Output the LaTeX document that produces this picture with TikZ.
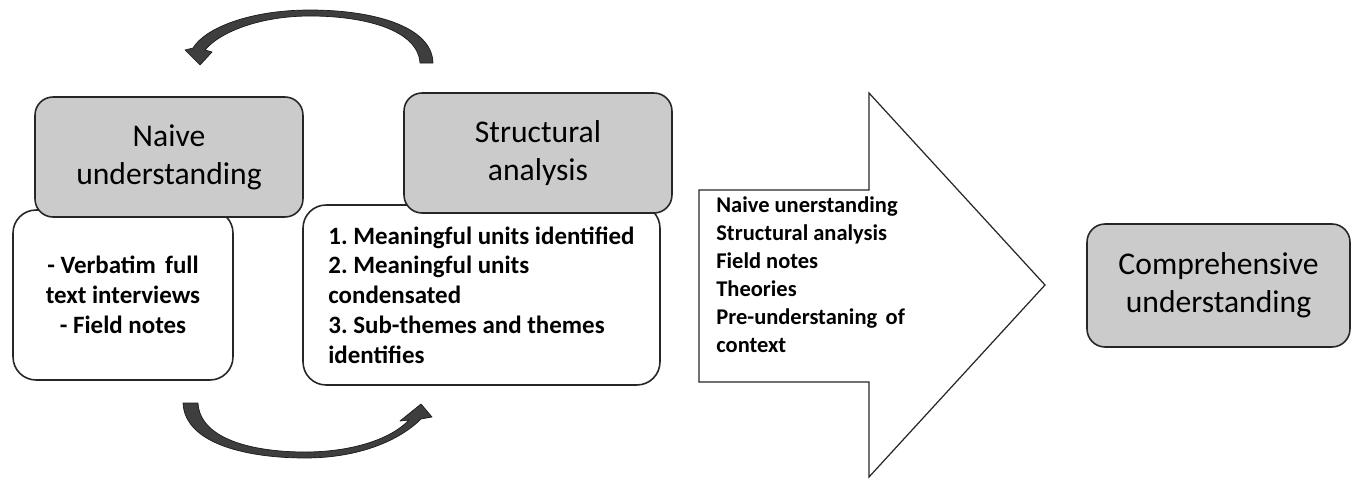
\documentclass[tikz,border=0pt]{standalone}
\usepackage{fontspec}
\setmainfont{Carlito}
\definecolor{boxgrey}{HTML}{CBCBCB}
\definecolor{linec}{HTML}{262626}
\definecolor{arcgrey}{HTML}{3E3E3E}
\definecolor{arcedge}{HTML}{1A1A1A}
\frenchspacing
\begin{document}
\begin{tikzpicture}[x=0.02cm,y=-0.02cm,
  greybox/.style={draw=linec, line width=0.9pt, fill=boxgrey, rounded corners=0.36cm,
    inner sep=0pt, align=center, font=\fontsize{18}{21.8}\selectfont},
  whitebox/.style={draw=linec, line width=0.9pt, fill=white, rounded corners=0.46cm,
    inner sep=0pt},
  bodytext/.style={inner sep=0pt, font=\bfseries\fontsize{14.2}{16.9}\selectfont},
  arrowtext/.style={inner sep=0pt, align=left, font=\bfseries\fontsize{12.8}{15.9}\selectfont},
  bigarrow/.style={draw=linec, line width=0.7pt, fill=white, line join=miter},
  curvedarrow/.style={fill=arcgrey, draw=arcedge, line width=0.4pt, line join=round}]
\useasboundingbox (0,0) rectangle (1353,480);

% white boxes (under the grey headings)
\node[whitebox, minimum width=4.4cm, minimum height=3.4cm, align=center, bodytext,
      draw=linec, fill=white, rounded corners=0.46cm, line width=0.9pt]
      (naivebody) at (123,295) {- Verbatim\hspace{0.15em} full\\text interviews\\- Field notes};
\node[whitebox, minimum width=7.14cm, minimum height=3.6cm] (structbody) at (481.5,295) {};
\node[bodytext, anchor=west, align=left] (structtext) at (328,295)
  {1. Meaningful units identified\\2. Meaningful units\\condensated\\3. Sub-themes and themes\\identifies};

% grey headings
\node[greybox, minimum width=5.36cm, minimum height=2.4cm] (naive) at (169,157) {Naive\\understanding};
\node[greybox, minimum width=5.36cm, minimum height=2.4cm] (struct) at (538,153) {Structural\\analysis};
\node[greybox, minimum width=5.26cm, minimum height=2.46cm] (compr) at (1218.5,285.5) {Comprehensive\\understanding};

% big arrow
\draw[bigarrow] (699,190) -- (869,190) -- (869,93) -- (1045,285) -- (869,477) -- (869,382) -- (699,382) -- cycle;
\node[arrowtext, anchor=west] (arrowlist) at (716,275)
  {Naive unerstanding\\Structural analysis\\Field notes\\Theories\\Pre-understaning\hspace{0.15em} of\\context};

% top curved arrow (from Structural analysis back to Naive understanding)
\filldraw[curvedarrow] (433,63) .. controls (432,25) and (370,10) .. (310,10)
  .. controls (250,10) and (205,28) .. (193,48) -- (185,50) -- (200,65) -- (212,52) -- (205,50)
  .. controls (220,32) and (260,16) .. (310,16)
  .. controls (365,16) and (418,30) .. (420,63) -- cycle;

% bottom curved arrow (from Naive understanding to Structural analysis)
\filldraw[curvedarrow] (183,403) .. controls (185,445) and (250,458) .. (305,458)
  .. controls (360,458) and (400,440) .. (421,419) -- (432,417) -- (421,404) -- (400,421) -- (409,420)
  .. controls (390,440) and (350,452) .. (305,452)
  .. controls (255,452) and (200,440) .. (198,403) -- cycle;
\end{tikzpicture}
\end{document}
